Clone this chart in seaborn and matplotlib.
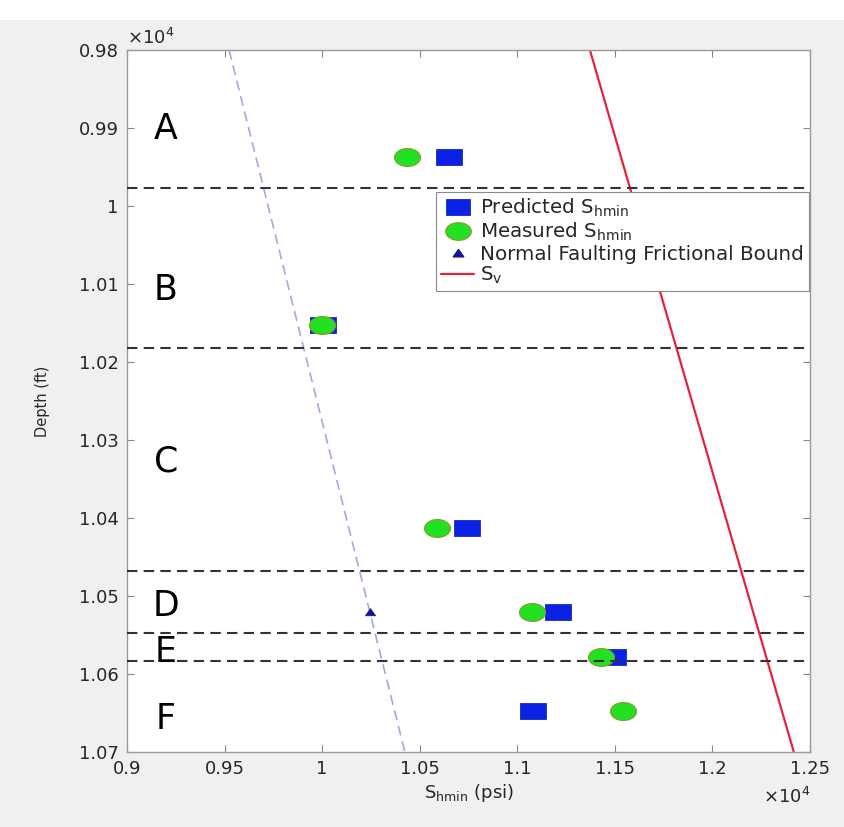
import numpy as np
import pandas as pd
import matplotlib
matplotlib.use("Agg")
import matplotlib.pyplot as plt
import seaborn as sns
from matplotlib.path import Path
from matplotlib.lines import Line2D
from matplotlib.patches import Rectangle
from matplotlib.ticker import FuncFormatter

# Stress zones and their bounding depths (ft)
zones = ["A", "B", "C", "D", "E", "F"]
zone_label_depth = [9901, 10108, 10328, 10513, 10572, 10658]
zone_label_psi = 9200
zone_boundaries = [9977, 10182, 10468, 10547, 10583]

# Minimum horizontal stress per zone (psi)
zone_depth = [9937, 10153, 10413, 10521, 10578, 10647]
predicted_shmin = [10650, 10004, 10742, 11208, 11490, 11080]
measured_shmin = [10434, 9999, 10588, 11075, 11428, 11541]

# Normal faulting frictional bound
nf_depth = [10520]
nf_shmin = [10245]
bound_depth = [9800, 10700]
bound_shmin = [9523, 10424]

# Vertical stress
sv_depth = [9800, 10700]
sv_psi = [11372, 12417]

x_ticks = [9000, 9500, 10000, 10500, 11000, 11500, 12000, 12500]
y_ticks = [9800, 9900, 10000, 10100, 10200, 10300, 10400, 10500, 10600, 10700]

sns.set_theme(style="ticks")
plt.rcParams["font.family"] = ["DejaVu Sans"]
plt.rcParams["mathtext.default"] = "regular"

# Wide marker shapes
sq_path = Path([(-1.5, -1), (1.5, -1), (1.5, 1), (-1.5, 1), (-1.5, -1)],
               [Path.MOVETO, Path.LINETO, Path.LINETO, Path.LINETO, Path.CLOSEPOLY])
t = np.linspace(0, 2 * np.pi, 60)
ell_path = Path(np.column_stack([1.45 * np.cos(t), np.sin(t)]))
tri_path = Path([(-1.25, -0.8), (1.25, -0.8), (0, 0.95), (-1.25, -0.8)],
                [Path.MOVETO, Path.LINETO, Path.LINETO, Path.CLOSEPOLY])

BLUE = "#0a22e6"
GREEN = "#22e022"
NAVY = "#12128c"
RED = "#e3243a"
BOUND = "#a6a6e6"

fig = plt.figure(figsize=(8.44, 8.27), dpi=100, facecolor="#f0f0f0")
fig.patches.append(Rectangle((0, 1 - 20 / 827), 1, 20 / 827, transform=fig.transFigure,
                             facecolor="white", edgecolor="none", zorder=-1))
ax = fig.add_axes([127 / 844, 75 / 827, 683 / 844, 702 / 827])
ax.set_facecolor("white")

df = pd.DataFrame({"depth": zone_depth, "pred": predicted_shmin, "meas": measured_shmin})

sns.lineplot(x=bound_shmin, y=bound_depth, ax=ax, color=BOUND, lw=1.2,
             linestyle=(0, (6, 3.5)), sort=False, zorder=2)
sns.lineplot(x=sv_psi, y=sv_depth, ax=ax, color=RED, lw=1.6, sort=False, zorder=2)

sns.scatterplot(data=df, x="pred", y="depth", ax=ax, marker=sq_path, s=330,
                color=BLUE, edgecolor="#1a2ab0", linewidth=0.6, zorder=3)
sns.scatterplot(data=df, x="meas", y="depth", ax=ax, marker=ell_path, s=350,
                color=GREEN, edgecolor="#8a9a2a", linewidth=0.8, zorder=4)
sns.scatterplot(x=nf_shmin, y=nf_depth, ax=ax, marker=tri_path, s=55,
                color=NAVY, edgecolor=NAVY, linewidth=0.5, zorder=4)

for b in zone_boundaries:
    ax.axhline(b, color="#333333", lw=1.5, linestyle=(0, (5, 3)), zorder=5)

for z, d in zip(zones, zone_label_depth):
    ax.text(zone_label_psi, d, z, fontsize=25, ha="center", va="center",
            color="black", zorder=6)

ax.set_xlim(9000, 12500)
ax.set_ylim(10700, 9800)
ax.set_xticks(x_ticks)
ax.set_yticks(y_ticks)
fmt = FuncFormatter(lambda v, p: f"{v / 1e4:g}")
ax.xaxis.set_major_formatter(fmt)
ax.yaxis.set_major_formatter(fmt)
ax.tick_params(direction="in", length=5, width=0.8, color="#888888",
               labelsize=13, labelcolor="#262626", top=True, right=True, pad=6)
for s in ax.spines.values():
    s.set_color("#9a9a9a")
    s.set_linewidth(1.0)
    s.set_visible(True)

ax.set_xlabel(r"S$_{hmin}$ (psi)", fontsize=13, color="#262626")
ax.xaxis.set_label_coords(0.5, -0.043)
ax.set_ylabel("Depth (ft)", fontsize=10.5, color="#262626")
ax.yaxis.set_label_coords(-0.113, 0.5)

ax.text(0.0, 1.003, r"$\times$10$^{4}$", transform=ax.transAxes, ha="left", va="bottom",
        fontsize=13, color="#262626")
ax.text(1.0, -0.064, r"$\times$10$^{4}$", transform=ax.transAxes, ha="right", va="center",
        fontsize=13, color="#262626")

handles = [
    Line2D([], [], linestyle="none", marker=sq_path, markersize=18, color=BLUE,
           markeredgecolor="#1a2ab0", markeredgewidth=0.6),
    Line2D([], [], linestyle="none", marker=ell_path, markersize=18.5, color=GREEN,
           markeredgecolor="#8a9a2a", markeredgewidth=0.8),
    Line2D([], [], linestyle="none", marker=tri_path, markersize=7.5, color=NAVY),
    Line2D([], [], color=RED, lw=1.6),
]
labels = [r"Predicted S$_{hmin}$", r"Measured S$_{hmin}$",
          "Normal Faulting Frictional Bound", r"S$_{v}$"]
leg = ax.legend(handles, labels, loc="upper left", bbox_to_anchor=(0.452, 0.798),
                fontsize=14.3, frameon=True, fancybox=False, framealpha=1,
                edgecolor="#8a8a8a", handlelength=1.7, handletextpad=0.3,
                labelspacing=0.08, borderpad=0.25, borderaxespad=0)
leg.get_frame().set_linewidth(0.8)
leg.set_zorder(10)

fig.savefig("out.png", dpi=100, facecolor=fig.get_facecolor())
